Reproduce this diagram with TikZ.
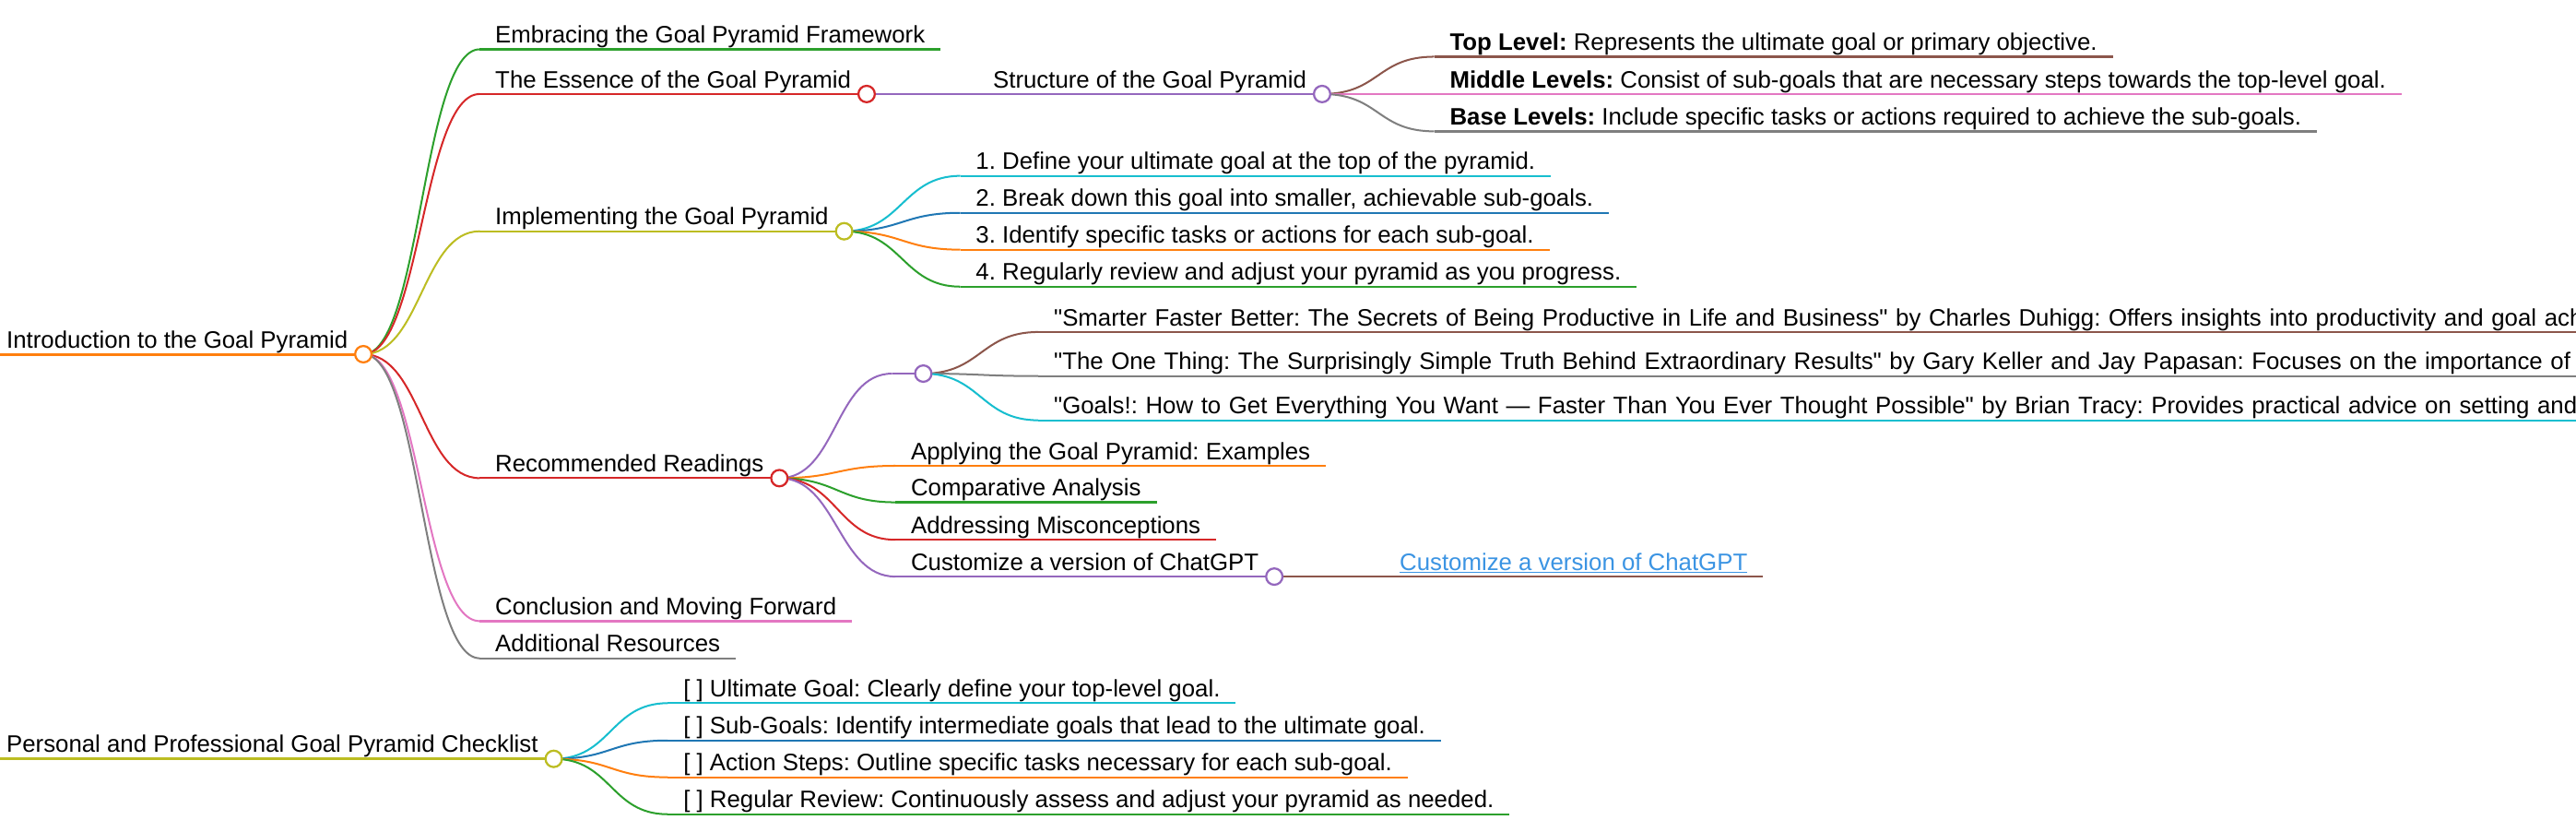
\documentclass[tikz,border=0pt]{standalone}
\usepackage{fontspec}
\setmainfont{Liberation Sans}[Ligatures=TeXOff]
\usetikzlibrary{positioning,calc}
\definecolor{mmblue}{HTML}{1F77B4}
\definecolor{mmorange}{HTML}{FF7F0E}
\definecolor{mmgreen}{HTML}{2CA02C}
\definecolor{mmred}{HTML}{D62728}
\definecolor{mmpurple}{HTML}{9467BD}
\definecolor{mmbrown}{HTML}{8C564B}
\definecolor{mmpink}{HTML}{E377C2}
\definecolor{mmgrey}{HTML}{7F7F7F}
\definecolor{mmolive}{HTML}{BCBD22}
\definecolor{mmcyan}{HTML}{17BECF}
\definecolor{linkblue}{HTML}{3B94E3}
\frenchspacing
\tikzstyle{topic} = [anchor=south west, inner xsep=4.75mm, inner ysep=1.9mm, outer sep=0pt, text depth=0pt, font=\fontsize{20.6}{24}\selectfont]
\tikzstyle{longtopic} = [topic, text width=48cm, align=left]
\tikzstyle{link} = [line width=1.6pt]

\begin{document}
\begin{tikzpicture}[
x=0.5mm, y=-0.5mm,
under/.style={line width=1.8pt},
rootline/.style={line width=2.4pt},
knob/.style={circle,draw,fill=white,line width=1.8pt,minimum size=5mm,inner sep=0pt}]

\path[use as bounding box, fill=white] (0,0) rectangle (1568,506);
\clip (0,0) rectangle (1568,506);

\node[topic] (intro) at (-5.5,215.5) {Introduction to the Goal Pyramid};
\node[topic] (emb) at (292,30) {Embracing the Goal Pyramid Framework};
\node[topic] (ess) at (292,57.2) {The Essence of the Goal Pyramid};
\node[topic] (struct) at (595,57.2) {Structure of the Goal Pyramid};
\node[topic] (toplev) at (873,34.5) {\textbf{Top Level:} Represents the ultimate goal or primary objective.};
\node[topic] (midlev) at (873,57.2) {\textbf{Middle Levels:} Consist of sub-goals that are necessary steps towards the top-level goal.};
\node[topic] (baselev) at (873,79.9) {\textbf{Base Levels:} Include specific tasks or actions required to achieve the sub-goals.};
\node[topic] (impl) at (292,140.7) {Implementing the Goal Pyramid};
\node[topic] (step1) at (584.5,107) {1. Define your ultimate goal at the top of the pyramid.};
\node[topic] (step2) at (584.5,129.5) {2. Break down this goal into smaller, achievable sub-goals.};
\node[topic] (step3) at (584.5,151.9) {3. Identify specific tasks or actions for each sub-goal.};
\node[topic] (step4) at (584.5,174.4) {4. Regularly review and adjust your pyramid as you progress.};
\node[topic] (read) at (292,290.9) {Recommended Readings};
\node[topic] (books) at (543,227.3) {};
\node[longtopic] (smarter) at (632,202) {"Smarter Faster Better: The Secrets of Being Productive in Life and Business" by Charles Duhigg: Offers insights into productivity and goal achie};
\node[longtopic] (onething) at (632,228.8) {"The One Thing: The Surprisingly Simple Truth Behind Extraordinary Results" by Gary Keller and Jay Papasan: Focuses on the importance of con};
\node[longtopic] (goals) at (632,255.7) {"Goals!: How to Get Everything You Want — Faster Than You Ever Thought Possible" by Brian Tracy: Provides practical advice on setting and ac};
\node[topic] (apply) at (545,283.4) {Applying the Goal Pyramid: Examples};
\node[topic] (compare) at (545,305.6) {Comparative Analysis};
\node[topic] (misc) at (545,328.4) {Addressing Misconceptions};
\node[topic] (custom) at (545,350.8) {Customize a version of ChatGPT};
\node[topic] (gptlink) at (842.5,350.8) {\textcolor{linkblue}{\underline{Customize a version of ChatGPT}}};
\node[topic] (concl) at (292,377.9) {Conclusion and Moving Forward};
\node[topic] (addl) at (292,400.5) {Additional Resources};
\node[topic] (check) at (-5.5,461.7) {Personal and Professional Goal Pyramid Checklist};
\node[topic] (ult) at (406.5,427.8) {[ ] Ultimate Goal: Clearly define your top-level goal.};
\node[topic] (subg) at (406.5,450.5) {[ ] Sub-Goals: Identify intermediate goals that lead to the ultimate goal.};
\node[topic] (action) at (406.5,472.9) {[ ] Action Steps: Outline specific tasks necessary for each sub-goal.};
\node[topic] (review) at (406.5,495.4) {[ ] Regular Review: Continuously assess and adjust your pyramid as needed.};

% underlines
\draw[rootline,mmorange] (intro.south west) -- (intro.south east);
\draw[under,mmgreen] (emb.south west) -- (emb.south east);
\draw[under,mmred] (ess.south west) -- (ess.south east);
\draw[under,mmpurple] (struct.south west) -- (struct.south east);
\draw[under,mmbrown] (toplev.south west) -- (toplev.south east);
\draw[under,mmpink] (midlev.south west) -- (midlev.south east);
\draw[under,mmgrey] (baselev.south west) -- (baselev.south east);
\draw[under,mmolive] (impl.south west) -- (impl.south east);
\draw[under,mmcyan] (step1.south west) -- (step1.south east);
\draw[under,mmblue] (step2.south west) -- (step2.south east);
\draw[under,mmorange] (step3.south west) -- (step3.south east);
\draw[under,mmgreen] (step4.south west) -- (step4.south east);
\draw[under,mmred] (read.south west) -- (read.south east);
\draw[under,mmpurple] (books.south west) -- (books.south east);
\draw[under,mmbrown] (smarter.south west) -- (smarter.south east);
\draw[under,mmgrey] (onething.south west) -- (onething.south east);
\draw[under,mmcyan] (goals.south west) -- (goals.south east);
\draw[under,mmorange] (apply.south west) -- (apply.south east);
\draw[under,mmgreen] (compare.south west) -- (compare.south east);
\draw[under,mmred] (misc.south west) -- (misc.south east);
\draw[under,mmpurple] (custom.south west) -- (custom.south east);
\draw[under,mmbrown] (gptlink.south west) -- (gptlink.south east);
\draw[under,mmpink] (concl.south west) -- (concl.south east);
\draw[under,mmgrey] (addl.south west) -- (addl.south east);
\draw[rootline,mmolive] (check.south west) -- (check.south east);
\draw[under,mmcyan] (ult.south west) -- (ult.south east);
\draw[under,mmblue] (subg.south west) -- (subg.south east);
\draw[under,mmorange] (action.south west) -- (action.south east);
\draw[under,mmgreen] (review.south west) -- (review.south east);

% branches
\draw[link,mmgreen] (intro.south east) .. controls +(35,0) and +(-35,0) .. (emb.south west);
\draw[link,mmred] (intro.south east) .. controls +(35,0) and +(-35,0) .. (ess.south west);
\draw[link,mmolive] (intro.south east) .. controls +(35,0) and +(-35,0) .. (impl.south west);
\draw[link,mmred] (intro.south east) .. controls +(35,0) and +(-35,0) .. (read.south west);
\draw[link,mmpink] (intro.south east) .. controls +(35,0) and +(-35,0) .. (concl.south west);
\draw[link,mmgrey] (intro.south east) .. controls +(35,0) and +(-35,0) .. (addl.south west);
\draw[link,mmpurple] (ess.south east) .. controls +(35,0) and +(-35,0) .. (struct.south west);
\draw[link,mmbrown] (struct.south east) .. controls +(35,0) and +(-35,0) .. (toplev.south west);
\draw[link,mmpink] (struct.south east) .. controls +(35,0) and +(-35,0) .. (midlev.south west);
\draw[link,mmgrey] (struct.south east) .. controls +(35,0) and +(-35,0) .. (baselev.south west);
\draw[link,mmcyan] (impl.south east) .. controls +(35,0) and +(-35,0) .. (step1.south west);
\draw[link,mmblue] (impl.south east) .. controls +(35,0) and +(-35,0) .. (step2.south west);
\draw[link,mmorange] (impl.south east) .. controls +(35,0) and +(-35,0) .. (step3.south west);
\draw[link,mmgreen] (impl.south east) .. controls +(35,0) and +(-35,0) .. (step4.south west);
\draw[link,mmpurple] (read.south east) .. controls +(35,0) and +(-35,0) .. (books.south west);
\draw[link,mmbrown] (books.south east) .. controls +(35,0) and +(-35,0) .. (smarter.south west);
\draw[link,mmgrey] (books.south east) .. controls +(35,0) and +(-35,0) .. (onething.south west);
\draw[link,mmcyan] (books.south east) .. controls +(35,0) and +(-35,0) .. (goals.south west);
\draw[link,mmorange] (read.south east) .. controls +(35,0) and +(-35,0) .. (apply.south west);
\draw[link,mmgreen] (read.south east) .. controls +(35,0) and +(-35,0) .. (compare.south west);
\draw[link,mmred] (read.south east) .. controls +(35,0) and +(-35,0) .. (misc.south west);
\draw[link,mmpurple] (read.south east) .. controls +(35,0) and +(-35,0) .. (custom.south west);
\draw[link,mmbrown] (custom.south east) .. controls +(35,0) and +(-35,0) .. (gptlink.south west);
\draw[link,mmcyan] (check.south east) .. controls +(35,0) and +(-35,0) .. (ult.south west);
\draw[link,mmblue] (check.south east) .. controls +(35,0) and +(-35,0) .. (subg.south west);
\draw[link,mmorange] (check.south east) .. controls +(35,0) and +(-35,0) .. (action.south west);
\draw[link,mmgreen] (check.south east) .. controls +(35,0) and +(-35,0) .. (review.south west);

% folding circles
\node[knob,draw=mmorange] (intro-k) at (intro.south east) {};
\node[knob,draw=mmred] (ess-k) at (ess.south east) {};
\node[knob,draw=mmpurple] (struct-k) at (struct.south east) {};
\node[knob,draw=mmolive] (impl-k) at (impl.south east) {};
\node[knob,draw=mmred] (read-k) at (read.south east) {};
\node[knob,draw=mmpurple] (books-k) at (books.south east) {};
\node[knob,draw=mmpurple] (custom-k) at (custom.south east) {};
\node[knob,draw=mmolive] (check-k) at (check.south east) {};
\end{tikzpicture}
\end{document}
